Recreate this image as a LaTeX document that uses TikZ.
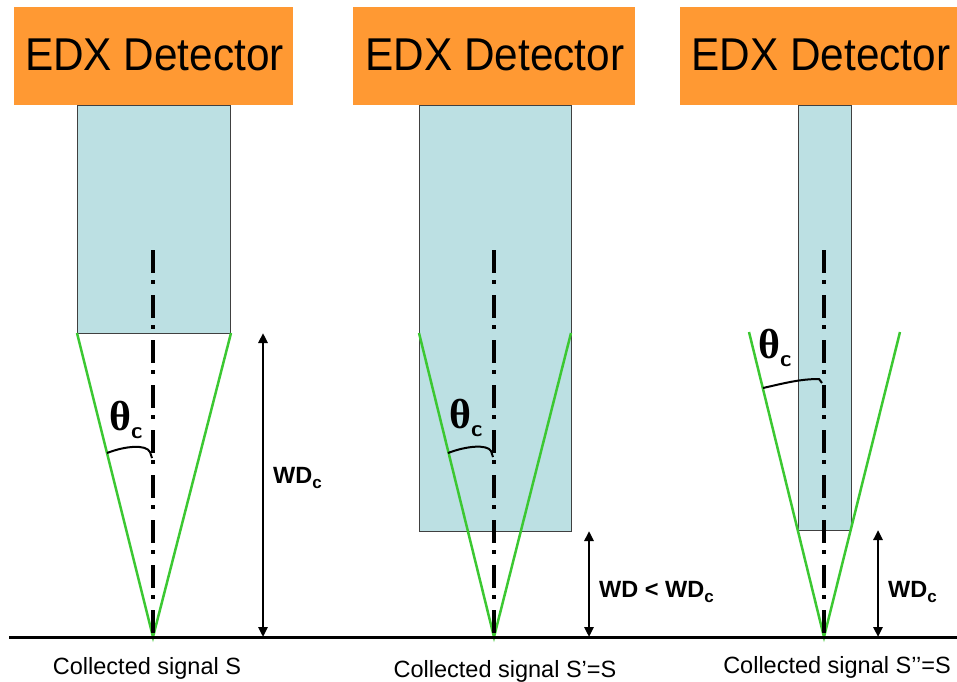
\documentclass[tikz,border=0pt]{standalone}
\usepackage{fontspec}
\setmainfont{Liberation Sans}
\newfontfamily\thfont{Liberation Serif}
\usetikzlibrary{arrows.meta}
\definecolor{edxorange}{RGB}{255,153,51}
\definecolor{probe}{RGB}{188,224,227}
\definecolor{conegreen}{RGB}{60,200,50}
\tikzset{
  detbox/.style={fill=edxorange},
  probebox/.style={fill=probe, draw=black!75, line width=0.8pt},
  conel/.style={draw=conegreen, line width=2.5pt},
  axisl/.style={draw=black, line width=4.5pt, dash pattern=on 23pt off 7pt on 4pt off 11pt},
  wdarrow/.style={draw=black, line width=2.5pt, {Triangle[length=10pt,width=9pt]}-{Triangle[length=10pt,width=9pt]}},
  arcl/.style={draw=black, line width=2pt},
  dettext/.style={anchor=base, inner sep=0pt, font=\fontsize{46}{46}\selectfont},
  captext/.style={anchor=base, inner sep=0pt, font=\fontsize{23.5}{24}\selectfont},
  wdtext/.style={anchor=base west, inner sep=0pt, font=\fontsize{23.5}{24}\selectfont\bfseries},
  thtext/.style={anchor=base west, inner sep=0pt, font=\fontsize{42}{42}\selectfont\thfont\bfseries},
}
\newcommand{\subc}[1]{\raisebox{-#1}{\fontsize{17}{17}\selectfont\bfseries c}}
\newcommand{\thc}{\raisebox{-8pt}{\fontsize{23}{23}\selectfont\sffamily\bfseries c}}
\begin{document}
\begin{tikzpicture}[x=1pt,y=-1pt]
\useasboundingbox (0,0) rectangle (957,681);

% probe columns
\path[probebox] (77,105) rectangle (230,333);
\path[probebox] (419,105) rectangle (571,531);
\path[probebox] (798,105) rectangle (851,530);

% coordinates
\coordinate (g1) at (153,637);
\coordinate (g2) at (494,637);
\coordinate (g3) at (824,637);
\coordinate (l1) at (77,333);  \coordinate (r1) at (231,333);
\coordinate (l2) at (419,333); \coordinate (r2) at (571,333);
\coordinate (l3) at (749,332); \coordinate (r3) at (900,332);
\coordinate (a1) at (153,250);
\coordinate (a2) at (494,250);
\coordinate (a3) at (824,250);

% cones
\draw[conel] (l1) -- (g1) -- (r1);
\draw[conel] (l2) -- (g2) -- (r2);
\draw[conel] (l3) -- (g3) -- (r3);

% axes
\draw[axisl] (a1) -- (g1);
\draw[axisl] (a2) -- (g2);
\draw[axisl] (a3) -- (g3);

% detectors
\path[detbox] (14,7) rectangle (293,105);
\path[detbox] (353,7) rectangle (635,105);
\path[detbox] (680,7) rectangle (957,105);
\node[dettext] (d1) at (154.5,70) {\scalebox{0.92}[1]{EDX Detector}};
\node[dettext] (d2) at (495,70) {\scalebox{0.92}[1]{EDX Detector}};
\node[dettext] (d3) at (821,70) {\scalebox{0.92}[1]{EDX Detector}};

% ground
\coordinate (gs) at (9,637);
\coordinate (ge) at (957,637);
\draw[line width=3pt] (gs) -- (ge);

% WD arrows
\coordinate (w1t) at (263,333); \coordinate (w1b) at (263,637);
\coordinate (w2t) at (589,531); \coordinate (w2b) at (589,637);
\coordinate (w3t) at (878,530); \coordinate (w3b) at (878,637);
\draw[wdarrow] (w1t) -- (w1b);
\draw[wdarrow] (w2t) -- (w2b);
\draw[wdarrow] (w3t) -- (w3b);

\node[wdtext] (wd1) at (273,483) {WD\subc{5pt}};
\node[wdtext] (wd2) at (599,597) {WD < WD\subc{5pt}};
\node[wdtext] (wd3) at (888,597) {WD\subc{5pt}};

% theta arcs
\draw[arcl] (107,453) .. controls (125,446) and (146,444) .. (150,452) -- (152,458);
\draw[arcl] (448,453) .. controls (466,446) and (487,444) .. (491,451) -- (493,457);
\draw[arcl] (763,388) .. controls (785,383) and (800,379) .. (819,379) -- (822,383);

% theta labels
\node[thtext] (th1) at (109,430) {θ\thc};
\node[thtext] (th2) at (449,428) {θ\thc};
\node[thtext] (th3) at (758,358) {θ\thc};

% captions
\node[captext] (c1) at (147,674) {Collected signal S};
\node[captext] (c2) at (505,677) {Collected signal S’=S};
\node[captext] (c3) at (837,673) {Collected signal S’’=S};
\end{tikzpicture}
\end{document}
